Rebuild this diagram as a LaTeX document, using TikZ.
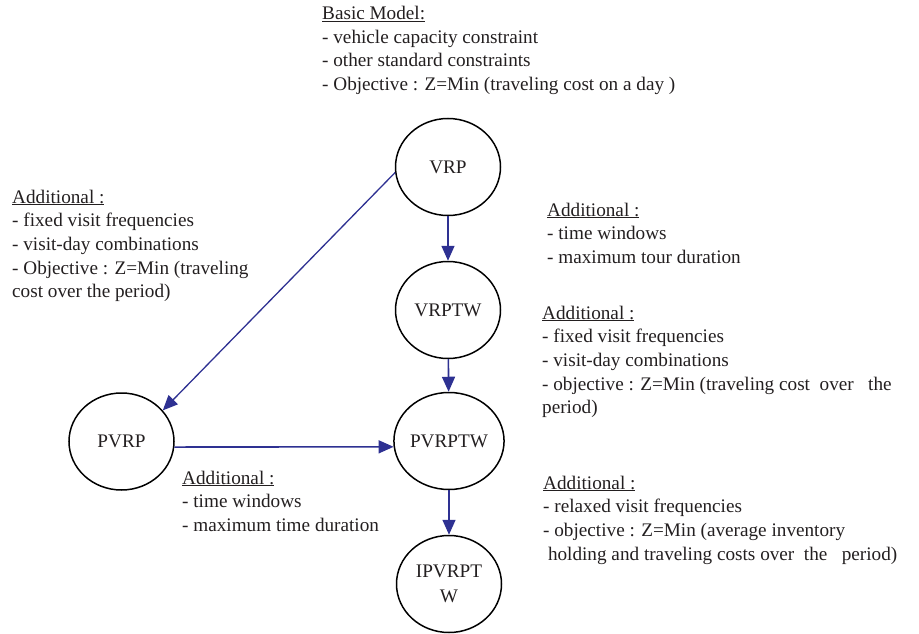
\documentclass[tikz,border=0pt]{standalone}
\usepackage{fontspec}
\setmainfont{Liberation Serif}
\usetikzlibrary{shapes.geometric,arrows.meta}
\definecolor{arrowblue}{RGB}{46,49,146}
\definecolor{txt}{RGB}{35,31,32}
\begin{document}
\begin{tikzpicture}[x=1pt,y=-1pt,
  model/.style={ellipse, draw=black, line width=1.5pt, minimum width=105pt, minimum height=97pt, inner sep=0pt, text=txt, font=\fontsize{19.2}{25}\selectfont},
  link/.style={draw=arrowblue, line width=1.6pt, -{Triangle[length=15pt,width=13pt]}},
  note/.style={anchor=base west, inner sep=0pt, text=txt, font=\fontsize{19.2}{23.7}\selectfont}]
\useasboundingbox (0,0) rectangle (919,634);
\node[model] (vrp) at (448,167) {VRP};
\node[model] (vrptw) at (448,310) {VRPTW};
\node[model] (pvrp) at (121.5,441.5) {PVRP};
\node[model] (pvrptw) at (449,441) {PVRPTW};
\node[model, align=center] (ipvrptw) at (449,584) {IPVRPT\\W};
\node[note] (basic) at (322,19.5) {\begin{tabular}[t]{@{}l@{}}\underline{Basic Model:}\\- vehicle capacity constraint\\- other standard constraints\\- Objective : Z=Min (traveling cost on a day )\end{tabular}};
\node[note] (addleft) at (12,203) {\begin{tabular}[t]{@{}l@{}}\underline{Additional :}\\- fixed visit frequencies\\- visit-day combinations\\- Objective : Z=Min (traveling\\cost over the period)\end{tabular}};
\node[note] (addtw) at (547,216) {\begin{tabular}[t]{@{}l@{}}\underline{Additional :}\\- time windows\\- maximum tour duration\end{tabular}};
\node[note] (addmid) at (542,319) {\begin{tabular}[t]{@{}l@{}}\underline{Additional :}\\- fixed visit frequencies\\- visit-day combinations\\- objective : Z=Min (traveling cost~ over~~ the\\period)\end{tabular}};
\node[note] (addbot) at (182,484) {\begin{tabular}[t]{@{}l@{}}\underline{Additional :}\\- time windows\\- maximum time duration\end{tabular}};
\node[note] (addinv) at (543,489) {\begin{tabular}[t]{@{}l@{}}\underline{Additional :}\\- relaxed visit frequencies\\- objective : Z=Min (average inventory\\\ holding and traveling costs over~ the~~ period)\end{tabular}};
\draw[link] (vrp) -- (vrptw);
\draw[link] (vrptw) -- (pvrptw);
\draw[link] (pvrptw) -- (ipvrptw);
\draw[link, line width=1.3pt] (vrp.186) -- (pvrp.37);
\draw[link] (pvrp.-6) -- (pvrptw.186);
\end{tikzpicture}
\end{document}
